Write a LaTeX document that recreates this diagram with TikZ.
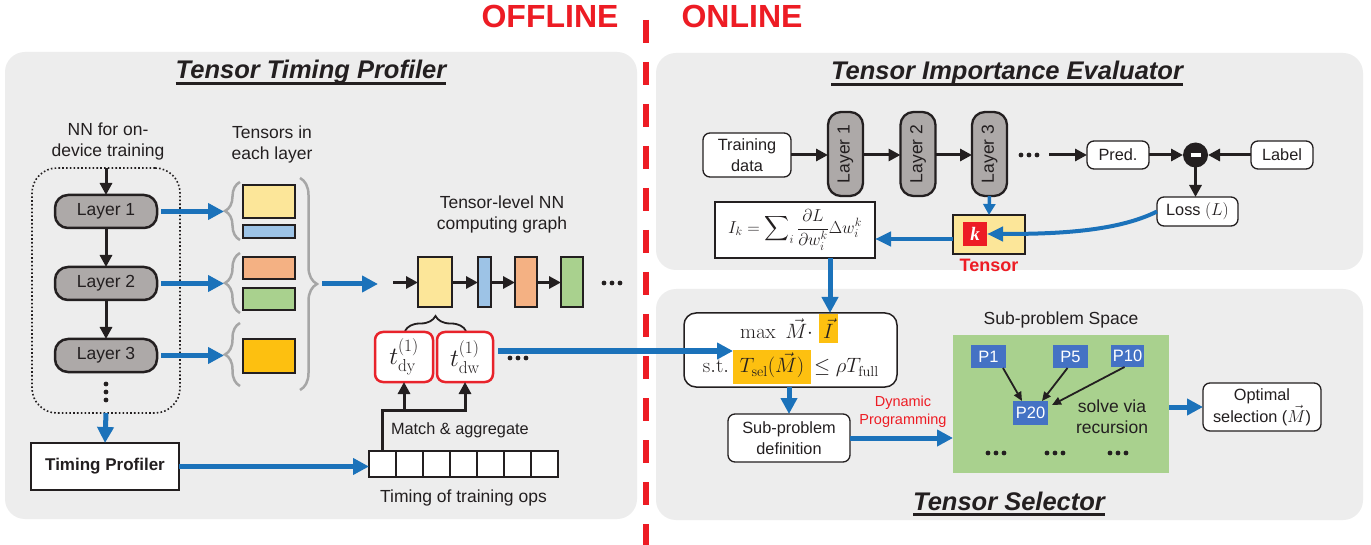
\documentclass[tikz,border=0pt]{standalone}
\usepackage[no-math]{fontspec}
\setmainfont{Liberation Sans}
\newfontfamily\kfont{Liberation Serif}
\usepackage{amsmath}
\usepackage{graphicx}
\usetikzlibrary{arrows.meta,decorations.pathreplacing,calc}
\definecolor{panelgray}{HTML}{EDEDED}
\definecolor{arrowblue}{HTML}{1B72BA}
\definecolor{offred}{HTML}{ED1C24}
\definecolor{tyellow}{HTML}{FCE699}
\definecolor{tblue}{HTML}{9DC3E6}
\definecolor{torange}{HTML}{F4B183}
\definecolor{tgreen}{HTML}{A9D18E}
\definecolor{tgold}{HTML}{FDC010}
\definecolor{pblue}{HTML}{4472C4}
\definecolor{layergray}{HTML}{ADA9A8}
\definecolor{bracegray}{HTML}{A6A6A6}
\definecolor{tred}{HTML}{E8232B}
\definecolor{ink}{HTML}{231F20}
\begin{document}
\begin{tikzpicture}[x=1pt,y=-1pt,
  every node/.style={inner sep=0pt, outer sep=0pt, text=ink},
  titletext/.style={font=\fontsize{25.5}{30}\selectfont\bfseries\itshape},
  bigred/.style={font=\fontsize{32}{36}\selectfont\bfseries, text=offred},
  txt/.style={font=\fontsize{17.5}{21}\selectfont, align=center},
  layerbox/.style={draw=ink, line width=2.5pt, fill=layergray, rounded corners=13pt, minimum width=102pt, minimum height=33pt, font=\fontsize{17.5}{21}\selectfont},
  vlayer/.style={draw=ink, line width=2.3pt, fill=layergray, rounded corners=13pt, minimum width=35pt, minimum height=84pt, font=\fontsize{17.5}{21}\selectfont},
  tens/.style={draw=ink, line width=2pt, minimum width=52pt},
  gnode/.style={draw=ink, line width=2pt, minimum height=50pt},
  wbox/.style={draw=ink, line width=1.3pt, fill=white, rounded corners=7pt, align=center, font=\fontsize{16.3}{20.5}\selectfont},
  barrow/.style={draw=arrowblue, line width=5pt, -{Triangle[length=16pt,width=16pt]}},
  barrowM/.style={draw=arrowblue, line width=4pt, -{Triangle[length=16pt,width=14pt]}},
  barrowS/.style={draw=arrowblue, line width=3.5pt, -{Triangle[length=11pt,width=12pt]}},
  karrow/.style={draw=ink, line width=3pt, -{Triangle[length=12pt,width=12pt]}},
  thinarrow/.style={draw=ink, line width=1.8pt, -{Triangle[length=9pt,width=8pt]}},
  tbox/.style={draw=tred, line width=2.5pt, fill=white, rounded corners=8pt, minimum height=50pt, font=\fontsize{25}{28}\selectfont},
  pbox/.style={fill=pblue, minimum width=35pt, minimum height=23pt, font=\fontsize{16.5}{20}\selectfont},
  graybrace/.style={draw=bracegray, line width=2.5pt, decorate, decoration={brace, amplitude=15pt}},
  cell/.style={draw=ink, line width=1.5pt, fill=white, minimum width=27pt, minimum height=26pt},
  hl/.style={fill=tgold, font=\fontsize{22.5}{26}\selectfont},
  mtxt/.style={font=\fontsize{22.5}{26}\selectfont},
]
\useasboundingbox (0,0) rectangle (1371,545);
\fill[white] (0,0) rectangle (1371,545);
% panels
\fill[panelgray, rounded corners=20pt] (5,52) rectangle (637,519);
\fill[panelgray, rounded corners=20pt] (656,53) rectangle (1363,270);
\fill[panelgray, rounded corners=20pt] (656,289) rectangle (1363,520);
% divider
\draw[offred, line width=6pt, dash pattern=on 23pt off 19pt] (646,20) -- (646,545);
\node[bigred, anchor=base] (offl) at (550,28) {OFFLINE};
\node[bigred, anchor=base] (onl) at (742,28) {ONLINE};
% titles
\node[titletext, anchor=base] (t1) at (311,79) {Tensor Timing Profiler};
\draw[line width=2.8pt, ink] ([yshift=-4.5pt]t1.base west) -- ([yshift=-4.5pt]t1.base east);
\node[titletext, anchor=base] (t2) at (1007,80) {Tensor Importance Evaluator};
\draw[line width=2.8pt, ink] ([yshift=-4.5pt]t2.base west) -- ([yshift=-4.5pt]t2.base east);
\node[titletext, anchor=base] (t3) at (1009,510) {Tensor Selector};
\draw[line width=2.8pt, ink] ([yshift=-4.5pt]t3.base west) -- ([yshift=-4.5pt]t3.base east);

% ---------------- left panel ----------------
\node[txt] (nnlbl) at (108,141) {NN for on-\\device training};
\node[txt] (tlbl) at (272,144) {Tensors in\\each layer};
\node[draw=ink, line width=1.6pt, dash pattern=on 1.6pt off 2.2pt, rounded corners=25pt, minimum width=148pt, minimum height=245pt] (nnbox) at (106,290.5) {};
\node[layerbox] (L1) at (106,211.5) {Layer 1};
\node[layerbox] (L2) at (106,283.5) {Layer 2};
\node[layerbox] (L3) at (106,355.5) {Layer 3};
\draw[karrow] (nnbox.north) -- (L1.north);
\draw[karrow] (L1.south) -- (L2.north);
\draw[karrow] (L2.south) -- (L3.north);
\fill[ink] (106,384) circle (2.4pt) (106,392) circle (2.4pt) (106,400) circle (2.4pt);
\node[draw=ink, line width=2pt, fill=white, minimum width=148pt, minimum height=47pt, font=\fontsize{17}{20}\selectfont\bfseries] (tp) at (105,466.5) {Timing Profiler};
\draw[barrow] (nnbox.south) -- (tp.north);

% tensors per layer
\node[tens, fill=tyellow, minimum height=33pt] (y1) at (269,201.5) {};
\node[tens, fill=tblue, minimum height=13pt] (b1) at (269,231.5) {};
\node[tens, fill=torange, minimum height=22pt] (o1) at (269,268) {};
\node[tens, fill=tgreen, minimum height=22pt] (g1) at (269,299) {};
\node[tens, fill=tgold, minimum height=34pt] (gd1) at (269,356) {};
\draw[graybrace] (240,240) -- (240,182);
\draw[graybrace] (240,313) -- (240,253);
\draw[graybrace] (240,386) -- (240,323);
\draw[graybrace, decoration={brace, amplitude=17pt}] (300,178) -- (300,390);
\coordinate (btip) at (224,0);
\draw[barrow, shorten <=4pt] (L1.east) -- (L1.east -| btip);
\draw[barrow, shorten <=4pt] (L2.east) -- (L2.east -| btip);
\draw[barrow, shorten <=4pt] (L3.east) -- (L3.east -| btip);
\coordinate (bigtip) at (322,284);
\coordinate (gin) at (378,284);
\draw[barrow] (bigtip) -- (gin);

% tensor-level graph
\node[txt] (glbl) at (502,214) {Tensor-level NN\\computing graph};
\node[gnode, fill=tyellow, minimum width=34pt] (ty) at (435,282.5) {};
\node[gnode, fill=tblue, minimum width=13pt] (tb) at (484.5,282.5) {};
\node[gnode, fill=torange, minimum width=22pt] (to) at (526,282.5) {};
\node[gnode, fill=tgreen, minimum width=22pt] (tg) at (572,282.5) {};
\coordinate (gstart) at (393,282.5);
\draw[karrow] (gstart) -- (ty.west);
\draw[karrow] (ty.east) -- (tb.west);
\draw[karrow] (tb.east) -- (to.west);
\draw[karrow] (to.east) -- (tg.west);
\fill[ink] (604,283) circle (2.4pt) (612,283) circle (2.4pt) (620,283) circle (2.4pt);
\draw[decorate, decoration={brace, amplitude=15pt}, line width=1.8pt, ink] (405,331) -- (466,331);

\node[tbox, minimum width=58pt] (tdy) at (404,357) {$t^{(1)}_{\mathrm{dy}}$};
\node[tbox, minimum width=56pt] (tdw) at (465,357) {$t^{(1)}_{\mathrm{dw}}$};
\fill[ink] (510,358) circle (2.4pt) (518,358) circle (2.4pt) (526,358) circle (2.4pt);

\foreach \i in {1,...,7} \node[cell] (c\i) at ({355.5+27*\i},464) {};
\draw[barrow] (tp.east) -- (tp.east -| c1.west);
\coordinate (mrow) at (0,410);
\draw[karrow] (c1.north) |- (mrow -| tdw.south) -- (tdw.south);
\draw[karrow] (tdy.south |- mrow) -- (tdy.south);
\node[font=\fontsize{16.3}{19.5}\selectfont, anchor=west] (mal) at (391,430) {Match \& aggregate};
\node[txt] (tol) at (463.5,498) {Timing of training ops};

% ---------------- right top panel ----------------
\node[wbox, minimum width=88pt, minimum height=44pt] (train) at (747,155) {Training\\data};
\node[vlayer] (R1) at (845.5,154) {\rotatebox{90}{Layer 1}};
\node[vlayer] (R2) at (918,154) {\rotatebox{90}{Layer 2}};
\node[vlayer] (R3) at (989.5,154) {\rotatebox{90}{Layer 3}};
\draw[karrow] (train.east) -- (R1.west |- train.east);
\draw[karrow] (R1.east |- train.east) -- (R2.west |- train.east);
\draw[karrow] (R2.east |- train.east) -- (R3.west |- train.east);
\fill[ink] (1021,155) circle (2.4pt) (1029,155) circle (2.4pt) (1037,155) circle (2.4pt);
\node[wbox, minimum width=62pt, minimum height=28pt] (pred) at (1118,155) {Pred.};
\node[circle, fill=ink, minimum size=25pt] (circ) at (1195.5,155) {};
\draw[white, line width=3.5pt] ([xshift=-5pt]circ.center) -- ([xshift=5pt]circ.center);
\node[wbox, minimum width=62pt, minimum height=28pt] (lab) at (1282,155) {Label};
\coordinate (pin) at (1049,155);
\draw[karrow] (pin) -- (pred.west);
\draw[karrow] (pred.east) -- (circ.west);
\draw[karrow] (lab.west) -- (circ.east);
\node[wbox, minimum width=81pt, minimum height=29pt] (loss) at (1197.5,211.5) {Loss $(L)$};
\draw[karrow] (circ.south) -- (circ.south |- loss.north);

\node[draw=ink, line width=2.8pt, fill=tyellow, minimum width=72pt, minimum height=39pt] (tensor) at (989,234.5) {};
\node[fill=offred, minimum size=24pt, text=white, font={\fontsize{19}{20}\selectfont\kfont\bfseries\itshape}] (kb) at (975,234) {k};
\node[font=\fontsize{18}{21}\selectfont\bfseries, text=offred] (tlab) at (989,265.5) {Tensor};
\node[draw=ink, line width=2pt, fill=white, minimum width=160pt, minimum height=56pt, font=\fontsize{18.8}{22}\selectfont] (form) at (795,230) {$\displaystyle I_k=\sum\nolimits_i\frac{\partial L}{\partial w_i^k}\Delta w_i^k$};

\draw[barrowS] (R3.south) -- (tensor.north);
\draw[barrowM] (loss.west) .. controls +(-40,20) and +(70,0) .. (kb.east);
\coordinate (ky) at (0,239);
\draw[barrowM] (tensor.west |- ky) -- (form.east |- ky);

% ---------------- right bottom panel ----------------
\node[draw=ink, line width=1.5pt, fill=white, rounded corners=12pt, minimum width=213pt, minimum height=74pt] (mbox) at (790.5,350) {};
\node[mtxt, anchor=base east] (mx) at (813,339) {$\max\ \vec{M}\cdot$};
\node[hl, anchor=base, minimum width=19pt, text height=25pt, text depth=4pt] (ivec) at (828.5,339) {$\vec{I}$};
\node[mtxt, anchor=base east] (st) at (729,373) {$\mathrm{s.t.}$};
\node[hl, anchor=base, minimum width=78pt, text height=23pt, text depth=11pt] (tsel) at (772,373) {$T_{\mathrm{sel}}(\vec{M})$};
\node[mtxt, anchor=base west] (rest) at (814,373) {$\le\rho T_{\mathrm{full}}$};
\coordinate (ax) at (830,0);
\draw[barrow] (form.south -| ax) -- (mbox.north -| ax);

\node[wbox, minimum width=122pt, minimum height=48pt] (def) at (789,438) {Sub-problem\\definition};
\draw[barrow] (def.north |- mbox.south) -- (def.north);
\node[fill=tgreen, minimum width=216pt, minimum height=138pt] (green) at (1061,404) {};
\draw[barrow] (def.east) -- (def.east -| green.west);
\node[font=\fontsize{14.5}{18}\selectfont, text=offred, align=center] (dp) at (903,412) {Dynamic\\Programming};
\node[txt] (sps) at (1061,320) {Sub-problem Space};
\node[pbox] (P1) at (988.5,356.5) {\color{white}P1};
\node[pbox] (P5) at (1070.5,356.5) {\color{white}P5};
\node[pbox, minimum width=33pt, minimum height=22pt] (P10) at (1127.5,356) {\color{white}P10};
\node[pbox, minimum height=24pt] (P20) at (1030.5,413) {\color{white}P20};
\draw[thinarrow] ([xshift=-3pt]P1.south east) -- ([xshift=9pt]P20.north west);
\draw[thinarrow] ([xshift=-3pt]P5.south) -- ([xshift=-6pt]P20.north east);
\draw[thinarrow] ([xshift=-3pt]P10.south) -- ([xshift=4pt,yshift=8pt]P20.east);
\node[txt] (solve) at (1112,417) {solve via\\recursion};
\foreach \cx in {996,1055,1118} \fill[ink] (\cx-8,453) circle (2.4pt) (\cx,453) circle (2.4pt) (\cx+8,453) circle (2.4pt);
\node[wbox, minimum width=118pt, minimum height=48pt, font=\fontsize{16.3}{22}\selectfont] (opt) at (1262,407) {Optimal\\selection ($\vec{M}$)};
\draw[barrow] (green.east |- opt.west) -- (opt.west);

% long arrow from t_dw to constraint
\coordinate (ly) at (0,351);
\draw[barrow, shorten <=5pt] (tdw.east |- ly) -- (tsel.west |- ly);
\end{tikzpicture}
\end{document}
